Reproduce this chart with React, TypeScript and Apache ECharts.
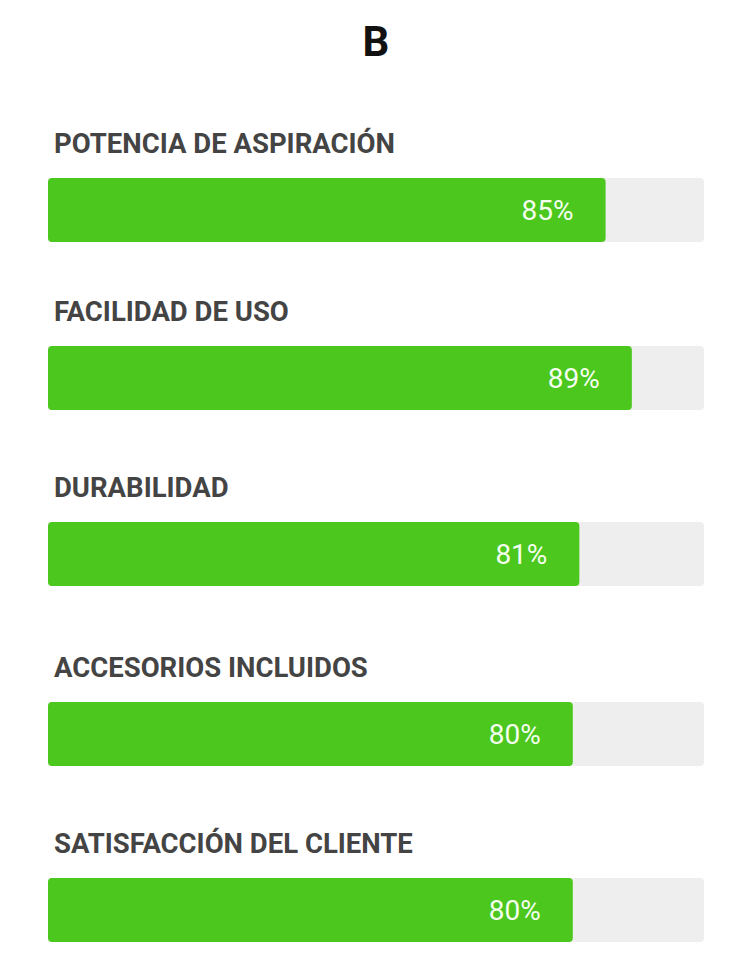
import React, { useEffect, useRef } from "react";
import * as echarts from "echarts";

const chartTitle = "B";
const categories = [
  "POTENCIA DE ASPIRACIÓN",
  "FACILIDAD DE USO",
  "DURABILIDAD",
  "ACCESORIOS INCLUIDOS",
  "SATISFACCIÓN DEL CLIENTE",
];
const values = [85, 89, 81, 80, 80];
const rowTops = [178, 346, 522, 702, 878];

export default function App() {
  const ref = useRef<HTMLDivElement>(null);
  useEffect(() => {
    if (!ref.current) return;
    const chart = echarts.init(ref.current, undefined, { renderer: "svg" });
    const font = "Roboto";
    const grids = rowTops.map((t) => ({ left: 48, width: 656, top: t, height: 64 }));
    const option: any = {
      animation: false,
      backgroundColor: "#ffffff",
      title: [
        {
          text: chartTitle,
          left: "center",
          top: 15,
          textStyle: { fontFamily: font, fontSize: 42, fontWeight: "bold", color: "#111111" },
        },
        ...categories.map((c, i) => ({
          text: c,
          left: 49,
          top: rowTops[i] - 54,
          textStyle: { fontFamily: font, fontSize: 27.5, fontWeight: "bold", color: "#444444" },
        })),
      ],
      grid: grids,
      xAxis: rowTops.map((_, i) => ({
        type: "value",
        gridIndex: i,
        min: 0,
        max: 100,
        show: false,
      })),
      yAxis: rowTops.map((_, i) => ({
        type: "category",
        gridIndex: i,
        data: [categories[i]],
        show: false,
      })),
      series: values.map((v, i) => ({
        type: "bar",
        xAxisIndex: i,
        yAxisIndex: i,
        data: [v],
        barWidth: 64,
        showBackground: true,
        backgroundStyle: { color: "#eeeeee", borderRadius: 4 },
        itemStyle: { color: "#4cc71e", borderRadius: 4 },
        label: {
          show: true,
          position: "insideRight",
          distance: 32,
          formatter: "{c}%",
          fontFamily: font,
          fontSize: 28,
          color: "#f4fff0",
        },
      })),
    };
    chart.setOption(option);
    return () => chart.dispose();
  }, []);
  return (
    <div
      ref={ref}
      style={{ position: "fixed", left: 0, top: 0, width: 752, height: 974 }}
    />
  );
}
